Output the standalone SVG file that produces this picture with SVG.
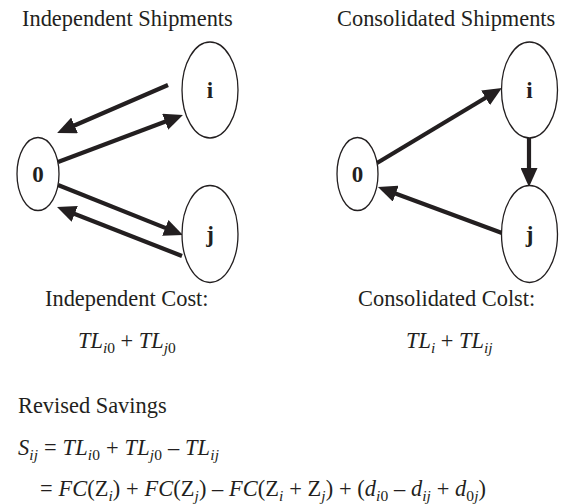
<svg xmlns="http://www.w3.org/2000/svg" width="561" height="504" viewBox="0 0 561 504">
<style>
text{font-family:"Liberation Serif","Times New Roman",serif;fill:#231f20;}
.t{font-size:22.4px;}
.lbl{font-size:23px;font-weight:bold;text-anchor:middle;}
.it{font-style:italic;}
.sb{font-size:15.5px;}
ellipse{fill:#fff;stroke:#231f20;stroke-width:1.3;}
.c line{stroke:#231f20;stroke-width:4.2;}
</style>
<defs>
<marker id="ah" markerUnits="userSpaceOnUse" markerWidth="19" markerHeight="17" refX="4" refY="8.5" orient="auto">
<path d="M0,0 L19,8.5 L0,17 Z" fill="#231f20"/>
</marker>
</defs>
<rect width="561" height="504" fill="#fff"/>
<text class="t" x="22" y="26">Independent Shipments</text>
<text class="t" x="337" y="26">Consolidated Shipments</text>
<g class="c" id="connectors">
<line x1="168" y1="85" x2="70.9" y2="127" marker-end="url(#ah)"/>
<line x1="58" y1="162" x2="168.9" y2="120.3" marker-end="url(#ah)"/>
<line x1="58" y1="185" x2="169" y2="229.4" marker-end="url(#ah)"/>
<line x1="182" y1="256" x2="71" y2="212.5" marker-end="url(#ah)"/>
<line x1="377" y1="163" x2="489" y2="95.8" marker-end="url(#ah)"/>
<line x1="529" y1="138" x2="529" y2="172" marker-end="url(#ah)"/>
<line x1="502" y1="233" x2="392" y2="192.2" marker-end="url(#ah)"/>
</g>
<g id="L0"><ellipse cx="38" cy="174" rx="21" ry="36.5"/><text class="lbl" x="38" y="182">0</text></g>
<g id="Li"><ellipse cx="210" cy="90" rx="28" ry="48"/><text class="lbl" x="210" y="98">i</text></g>
<g id="Lj"><ellipse cx="210" cy="234" rx="28" ry="48.5"/><text class="lbl" x="210" y="242">j</text></g>
<g id="R0"><ellipse cx="357.5" cy="174" rx="20.5" ry="36.5"/><text class="lbl" x="357.5" y="182">0</text></g>
<g id="Ri"><ellipse cx="529.5" cy="90" rx="28" ry="48"/><text class="lbl" x="529.5" y="98">i</text></g>
<g id="Rj"><ellipse cx="529.5" cy="234" rx="28" ry="48.5"/><text class="lbl" x="529.5" y="242">j</text></g>
<text class="t" x="45" y="306">Independent Cost:</text>
<text class="t" x="358" y="306">Consolidated Colst:</text>
<text class="t" x="78" y="348"><tspan class="it">TL</tspan><tspan class="sb" dy="5"><tspan class="it">i</tspan>0</tspan><tspan dy="-5"> + </tspan><tspan class="it">TL</tspan><tspan class="sb" dy="5"><tspan class="it">j</tspan>0</tspan></text>
<text class="t" x="406" y="348"><tspan class="it">TL</tspan><tspan class="sb it" dy="5">i</tspan><tspan dy="-5"> + </tspan><tspan class="it">TL</tspan><tspan class="sb it" dy="5">ij</tspan></text>
<text class="t" x="18" y="413">Revised Savings</text>
<text class="t" x="18" y="455" textLength="201" lengthAdjust="spacing"><tspan class="it">S</tspan><tspan class="sb it" dy="5">ij</tspan><tspan dy="-5"> = </tspan><tspan class="it">TL</tspan><tspan class="sb" dy="5"><tspan class="it">i</tspan>0</tspan><tspan dy="-5"> + </tspan><tspan class="it">TL</tspan><tspan class="sb" dy="5"><tspan class="it">j</tspan>0</tspan><tspan dy="-5"> – </tspan><tspan class="it">TL</tspan><tspan class="sb it" dy="5">ij</tspan></text>
<text class="t" x="40" y="496" textLength="446" lengthAdjust="spacing">= <tspan class="it">FC</tspan>(Z<tspan class="sb it" dy="5">i</tspan><tspan dy="-5">) + </tspan><tspan class="it">FC</tspan>(Z<tspan class="sb it" dy="5">j</tspan><tspan dy="-5">) – </tspan><tspan class="it">FC</tspan>(Z<tspan class="sb it" dy="5">i</tspan><tspan dy="-5"> + Z</tspan><tspan class="sb it" dy="5">j</tspan><tspan dy="-5">) + (</tspan><tspan class="it">d</tspan><tspan class="sb" dy="5"><tspan class="it">i</tspan>0</tspan><tspan dy="-5"> – </tspan><tspan class="it">d</tspan><tspan class="sb it" dy="5">ij</tspan><tspan dy="-5"> + </tspan><tspan class="it">d</tspan><tspan class="sb" dy="5">0<tspan class="it">j</tspan></tspan><tspan dy="-5">)</tspan></text>
</svg>
